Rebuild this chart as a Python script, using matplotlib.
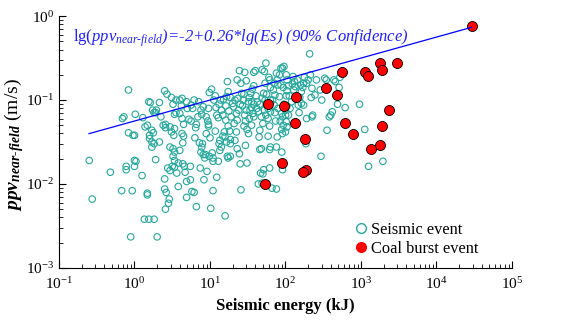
# -*- coding: utf-8 -*-

import numpy as np
import matplotlib
matplotlib.use("Agg")
import matplotlib.pyplot as plt
from matplotlib.lines import Line2D
from matplotlib.ticker import LogLocator, NullFormatter

# ===================== DONNEES =====================
# evenements sismiques : (lg Es [kJ], lg ppv [m/s])
seismic_points = [
    (-0.60, -1.72), (-0.56, -2.18), (-0.32, -1.86), (-0.17, -2.08), (-0.16, -1.22),
    (-0.14, -1.20), (-0.11, -1.79), (-0.11, -1.83), (-0.08, -0.88), (-0.08, -1.39),
    (-0.05, -2.63), (-0.03, -2.08), (-0.02, -1.42), (0.00, -1.42), (0.01, -1.17),
    (0.00, -1.72), (0.02, -1.73), (0.00, -1.79), (0.10, -1.90), (0.11, -1.21),
    (0.14, -1.32), (0.17, -1.30), (0.13, -2.42), (0.17, -2.11), (0.17, -2.13),
    (0.19, -1.02), (0.21, -1.03), (0.20, -1.42), (0.20, -1.46), (0.19, -2.42),
    (0.26, -2.42), (0.24, -1.12), (0.26, -1.15), (0.23, -1.36), (0.25, -1.39),
    (0.23, -1.50), (0.26, -1.52), (0.23, -1.56), (0.28, -1.15), (0.29, -1.12),
    (0.28, -1.71), (0.30, -2.63), (0.33, -1.03), (0.33, -1.50), (0.38, -1.30),
    (0.41, -1.33), (0.41, -1.29), (0.40, -0.89), (0.43, -0.93), (0.40, -1.94),
    (0.40, -2.06), (0.42, -2.10), (0.41, -2.30), (0.46, -2.18), (0.45, -2.23),
    (0.44, -1.81), (0.47, -1.84), (0.35, -1.20),
    (0.49, -0.97), (0.47, -1.56), (0.51, -1.58), (0.53, -1.62), (0.51, -1.67),
    (0.53, -1.72), (0.47, -1.32), (0.49, -1.38), (0.52, -1.42), (0.53, -1.34),
    (0.53, -1.17), (0.55, -1.15), (0.51, -1.05), (0.55, -1.00), (0.50, -1.79),
    (0.53, -1.80), (0.58, -1.75), (0.56, -1.87), (0.58, -2.03), (0.60, -1.00),
    (0.63, -0.98), (0.62, -1.07), (0.60, -1.16), (0.63, -1.22), (0.65, -1.29),
    (0.63, -1.40), (0.65, -1.43), (0.64, -1.51), (0.64, -1.76), (0.66, -1.79),
    (0.67, -1.86), (0.69, -2.16), (0.69, -1.97), (0.74, -1.95), (0.74, -1.79),
    (0.72, -1.23), (0.75, -1.25), (0.69, -1.02), (0.79, -1.00), (0.75, -1.06),
    (0.77, -1.10), (0.76, -2.09), (0.79, -2.10), (0.81, -1.33), (0.82, -1.29),
    (0.82, -2.27), (0.87, -1.81), (0.86, -1.51), (0.89, -1.56), (0.90, -1.52),
    (0.91, -1.65), (0.88, -1.62), (0.93, -1.69), (0.94, -1.65), (0.89, -1.17),
    (0.88, -1.12), (0.91, -1.08), (0.95, -1.20), (0.97, -1.25), (0.98, -1.29),
    (0.99, -0.91), (0.98, -1.31), (0.96, -1.85), (0.92, -1.95), (0.98, -1.10),
    (1.01, -2.29), (1.04, -2.08), (1.04, -1.73), (1.07, -1.37), (1.02, -0.87),
    (1.03, -1.63), (1.04, -1.69), (0.99, -1.67), (0.70, -1.10), (0.84, -1.20),
    (0.80, -1.45), (0.95, -1.40), (1.00, -1.45), (0.60, -1.60), (0.85, -1.02),
    (1.09, -1.92), (1.11, -1.73), (1.13, -1.48), (1.12, -1.52), (1.15, -1.56),
    (1.13, -1.60), (1.17, -1.43), (1.19, -1.38), (1.09, -1.18), (1.11, -1.21),
    (1.08, -1.09), (1.12, -1.05), (1.14, -1.00), (1.18, -0.99), (1.21, -1.07),
    (1.22, -0.96), (1.24, -0.90), (1.27, -0.97), (1.23, -0.78), (1.21, -1.24),
    (1.24, -1.31), (1.26, -1.37), (1.20, -1.44), (1.22, -1.50), (1.27, -1.47),
    (1.27, -1.52), (1.24, -1.69), (1.23, -1.67), (1.27, -1.67), (1.20, -2.38),
    (1.30, -1.04), (1.31, -1.08), (1.33, -1.00), (1.35, -1.16), (1.36, -1.24),
    (1.38, -1.12), (1.35, -1.38), (1.33, -1.48), (1.36, -1.58), (1.39, -1.64),
    (1.40, -1.76), (1.41, -2.07), (1.39, -0.65), (1.36, -0.76), (1.41, -0.80),
    (1.42, -0.92), (1.44, -1.00), (1.43, -1.07), (1.46, -1.18), (1.47, -1.25),
    (1.45, -1.31), (1.49, -1.35), (1.51, -1.40), (1.47, -1.54), (1.49, -1.75),
    (1.48, -0.77), (1.46, -0.67), (1.51, -1.02), (1.52, -0.97), (1.55, -1.02),
    (1.53, -1.12), (1.55, -1.09), (1.57, -1.16), (1.58, -1.05), (1.54, -0.92),
    (1.56, -0.87), (1.58, -0.83), (1.58, -0.67), (1.60, -0.65), (1.62, -1.10),
    (1.63, -1.02), (1.64, -1.14), (1.65, -1.44), (1.66, -1.36), (1.68, -1.58),
    (1.66, -1.59), (1.67, -1.87), (1.69, -1.99), (1.71, -1.83), (1.70, -1.88),
    (1.64, -2.00), (1.69, -0.64), (1.72, -0.66), (1.74, -0.56), (1.73, -0.80),
    (1.71, -0.92), (1.69, -0.98), (1.73, -1.00), (1.75, -1.06), (1.72, -1.12),
    (1.74, -1.18), (1.77, -1.22), (1.78, -0.73), (1.79, -0.76), (1.80, -0.85),
    (1.80, -1.00), (1.80, -1.14), (1.79, -1.31), (1.77, -1.43), (1.80, -1.56),
    (1.79, -1.59), (1.79, -1.81), (1.82, -2.05), (1.85, -0.80), (1.84, -0.88),
    (1.86, -0.94), (1.85, -1.06), (1.87, -1.25), (1.89, -0.76), (1.90, -0.82),
    (1.88, -1.56), (1.89, -1.44), (1.88, -2.06), (1.94, -0.82), (1.92, -0.96),
    (1.94, -0.62), (1.96, -0.62), (1.97, -0.85), (1.95, -1.16), (1.96, -1.20),
    (1.98, -1.05), (2.00, -1.12), (1.97, -1.30), (1.95, -1.35), (1.96, -1.40),
    (1.95, -1.62), (1.96, -1.83),
    (1.05, -1.00), (1.07, -0.95), (1.15, -1.12), (1.17, -1.18), (1.25, -1.13),
    (1.28, -1.20), (1.32, -1.28), (1.37, -0.98), (1.40, -1.05), (1.45, -0.93),
    (1.48, -1.12), (1.52, -1.22), (1.55, -1.30), (1.58, -1.20), (1.61, -0.95),
    (1.66, -1.05), (1.68, -1.20), (1.70, -1.28), (1.75, -0.93), (1.77, -1.10),
    (1.83, -1.00), (1.86, -1.15), (1.90, -1.10), (1.93, -1.25), (1.92, -0.70),
    (1.88, -0.68),
    (1.98, -0.60), (2.01, -0.70), (2.02, -0.76), (2.04, -0.83), (2.02, -0.89),
    (2.01, -0.95), (2.02, -1.07), (2.04, -1.18), (2.01, -1.26), (2.00, -1.18),
    (2.02, -1.32), (2.00, -1.38), (2.06, -1.10), (2.10, -0.72), (2.09, -0.81),
    (2.11, -0.88), (2.13, -0.84), (2.16, -0.76), (2.15, -0.96), (2.17, -1.06),
    (2.19, -0.97), (2.18, -1.15), (2.21, -0.90), (2.23, -0.85), (2.24, -0.80),
    (2.25, -0.73), (2.21, -1.04), (2.24, -1.06), (2.27, -1.52), (2.28, -1.22),
    (2.28, -0.80), (2.30, -0.76), (2.32, -0.45), (2.33, -0.70), (2.35, -0.86),
    (2.34, -0.97), (2.36, -1.18), (2.35, -1.20), (2.39, -0.94), (2.41, -0.76),
    (2.46, -0.88), (2.47, -1.67), (2.48, -1.00), (2.52, -0.74), (2.54, -0.76),
    (2.55, -1.36), (2.58, -1.20), (2.60, -1.18), (2.62, -1.14), (2.64, -0.76),
    (2.66, -0.78), (2.69, -1.05), (2.71, -0.85), (2.72, -0.73), (2.79, -1.09),
    (2.05, -0.95), (2.08, -1.02), (2.12, -0.78), (2.20, -0.82),
    (2.98, -1.05), (3.05, -1.35), (3.10, -1.79), (3.29, -1.73),
]

# coups de terrain (Es en kJ, ppv en m/s)
burst_es = [29200, 1800, 3000, 1900, 560, 1140, 1250, 344, 480, 136, 58, 95,
            2370, 620, 132, 1900, 783, 183, 1790, 1340, 89, 187, 169, 54]
burst_ppv = [0.767, 0.278, 0.273, 0.225, 0.216, 0.216, 0.195, 0.140, 0.116, 0.108,
             0.0896, 0.085, 0.0753, 0.0537, 0.0527, 0.0494, 0.039, 0.0347, 0.0291,
             0.0261, 0.0179, 0.0147, 0.0138, 0.0100]

# droite tracee : lg(ppv) = a + b*lg(Es), Es en J
fit_a, fit_b = -2.0, 0.25
fit_es_range = [0.25, 29200]   # kJ

# ===================== FIGURE =====================
plt.rcParams["font.family"] = ["Liberation Serif", "DejaVu Serif"]
plt.rcParams["mathtext.fontset"] = "custom"
plt.rcParams["mathtext.rm"] = "Liberation Serif"
plt.rcParams["mathtext.it"] = "Liberation Serif:italic"
plt.rcParams["mathtext.bf"] = "Liberation Serif:bold"
try:
    plt.rcParams["mathtext.bfit"] = "Liberation Serif:italic:bold"
except KeyError:
    pass

teal = "#26A89C"

pts = np.array(seismic_points)
es_s = 10 ** pts[:, 0]
ppv_s = 10 ** pts[:, 1]

fig = plt.figure(figsize=(5.64, 3.22), dpi=100)
ax = fig.add_axes([0.1046, 0.168, 0.8032, 0.782])

ax.scatter(es_s, ppv_s, s=22, facecolors="none", edgecolors=teal, linewidths=0.8, zorder=2)
ax.scatter(burst_es, burst_ppv, s=52, facecolors="red", edgecolors="black", linewidths=0.6, zorder=3)

fit_x = np.array(fit_es_range)
fit_y = 10 ** (fit_a + fit_b * np.log10(fit_x * 1000))
ax.plot(fit_x, fit_y, color="#0000ff", lw=0.9, zorder=4)

ax.set_xscale("log")
ax.set_yscale("log")
ax.set_xlim(1e-1, 1e5)
ax.set_ylim(1e-3, 1e0)

ax.xaxis.set_major_locator(LogLocator(base=10, numticks=10))
ax.xaxis.set_minor_locator(LogLocator(base=10, subs=np.arange(2, 10), numticks=20))
ax.xaxis.set_minor_formatter(NullFormatter())
ax.yaxis.set_minor_formatter(NullFormatter())

for s in ["top", "right"]:
    ax.spines[s].set_visible(False)
ax.tick_params(which="both", direction="in", labelsize=11)
ax.tick_params(which="major", length=5, width=0.8)
ax.tick_params(which="minor", length=3, width=0.6)
ax.tick_params(axis="x", pad=6)

ax.set_xlabel("Seismic energy (kJ)", fontsize=12, fontweight="bold", labelpad=4)
ax.set_ylabel(r"$\mathbfit{ppv}_{\mathbfit{near‐field}}$ (m/s)", fontsize=14)
ax.yaxis.set_label_coords(-0.072, 0.49)

ax.text(0.031, 0.955,
        r"$\mathrm{lg(}\mathit{ppv}_{\mathit{near‐field}}$)=-2+0.26*lg(Es) (90% Confidence)",
        transform=ax.transAxes, color="#2020ff", fontsize=12, style="italic",
        va="top", ha="left")

handles = [
    Line2D([], [], ls="none", marker="o", ms=7, mfc="none", mec=teal, mew=1.0),
    Line2D([], [], ls="none", marker="o", ms=7, mfc="red", mec="red"),
]
ax.legend(handles, ["Seismic event", "Coal burst event"], loc="lower right",
          bbox_to_anchor=(0.925, 0.045), frameon=False, fontsize=11.8,
          handlelength=0.6, handletextpad=0.3, labelspacing=0.15,
          borderaxespad=0, borderpad=0)

fig.savefig("out.png", dpi=100)
